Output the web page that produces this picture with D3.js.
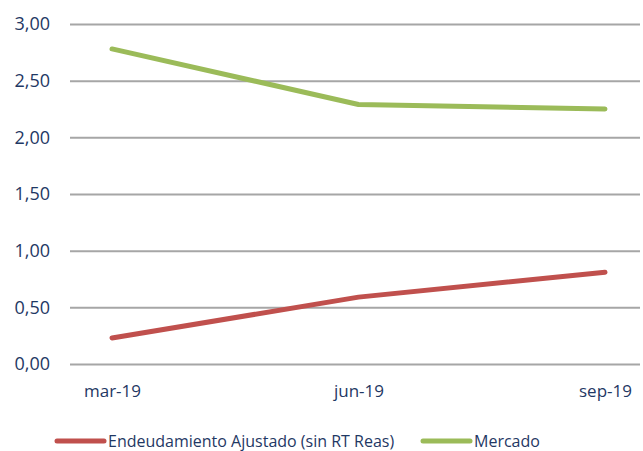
<!DOCTYPE html>
<html lang="es">
<head>
<meta charset="utf-8">
<script src="https://cdn.jsdelivr.net/npm/d3@7"></script>
<style>
  body { margin: 0; background: #fff; }
  text { font-family: "Open Sans", sans-serif; fill: #1F3864; }
</style>
</head>
<body>
<script>
// datos
var categories = ["mar-19", "jun-19", "sep-19"];
var endeudamiento = [0.23, 0.59, 0.81];
var mercado = [2.78, 2.29, 2.25];
var yTicks = [0, 0.5, 1, 1.5, 2, 2.5, 3];
var seriesNames = ["Endeudamiento Ajustado (sin RT Reas)", "Mercado"];
var seriesColors = ["#C0504D", "#9BBB59"];

var width = 643, height = 451;

var svg = d3.select("body").append("svg")
    .attr("width", width)
    .attr("height", height);

var x = d3.scalePoint()
    .domain(categories)
    .range([112, 605]);

var y = d3.scaleLinear()
    .domain([0, 3])
    .range([364, 24]);

// grid + y labels
var yAxis = d3.axisLeft(y)
    .tickValues(yTicks)
    .tickSize(-(640 - 70))
    .tickPadding(20)
    .tickFormat(function(d) { return d3.format(".2f")(d).replace(".", ","); });

var gy = svg.append("g")
    .attr("transform", "translate(70,0)")
    .call(yAxis);
gy.select(".domain").remove();
gy.selectAll(".tick line")
    .attr("stroke", "#A6A6A6")
    .attr("stroke-width", 2);
gy.selectAll(".tick text")
    .style("font-size", "18px");

// x labels
var xAxis = d3.axisBottom(x).tickSize(0).tickPadding(21);
var gx = svg.append("g")
    .attr("transform", "translate(0,364)")
    .call(xAxis);
gx.select(".domain").remove();
gx.selectAll(".tick text").style("font-size", "17px");

var line = d3.line()
    .x(function(d, i) { return x(categories[i]); })
    .y(function(d) { return y(d); });

[endeudamiento, mercado].forEach(function(vals, i) {
  svg.append("path")
      .datum(vals)
      .attr("d", line)
      .attr("fill", "none")
      .attr("stroke", seriesColors[i])
      .attr("stroke-width", 5)
      .attr("stroke-linecap", "round")
      .attr("stroke-linejoin", "round");
});

// legend
var legendX = [57, 423];
var legend = svg.append("g");
seriesNames.forEach(function(name, i) {
  legend.append("line")
      .attr("x1", legendX[i]).attr("x2", legendX[i] + 47)
      .attr("y1", 441).attr("y2", 441)
      .attr("stroke", seriesColors[i])
      .attr("stroke-width", 5)
      .attr("stroke-linecap", "round");
  legend.append("text")
      .attr("x", legendX[i] + 51)
      .attr("y", 441)
      .attr("dy", "0.35em")
      .style("font-size", "16px")
      .text(name);
});
</script>
</body>
</html>
